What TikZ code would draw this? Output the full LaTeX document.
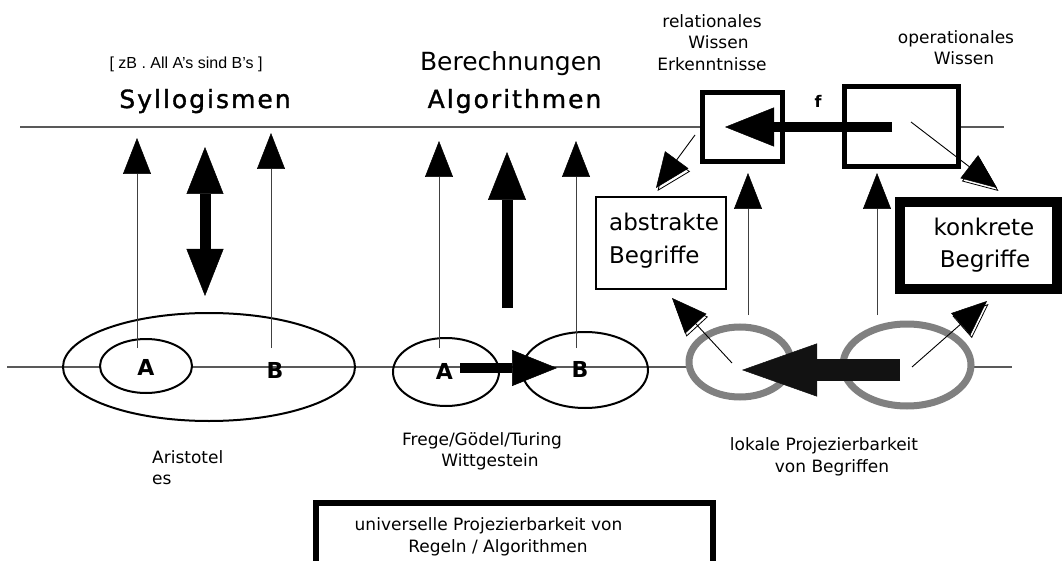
\documentclass[tikz,border=0pt]{standalone}
\usepackage{fontspec}
\setmainfont{DejaVu Sans}
\newfontfamily\libsans{Liberation Sans}
\newfontfamily\widebold[LetterSpace=8,FakeBold=1.3]{DejaVu Sans}
\usetikzlibrary{arrows.meta,shapes.geometric}
\newcommand\myfs[1]{\fontsize{#1}{#1}\selectfont}
\begin{document}
\begin{tikzpicture}[x=1pt,y=-1pt,
  hline/.style={draw=black!65,line width=1.3pt},
  txt/.style={inner sep=0pt,anchor=base,font=\myfs{17}},
  ell/.style={ellipse,draw=black,line width=2pt,inner sep=0pt},
  gell/.style={ellipse,draw=black!50,line width=7pt,inner sep=0pt,fill=white},
  thinarrow/.style={draw=black!75,line width=1pt,-{Triangle[width=28pt,length=36pt,color=black,line width=0.5pt]}},
  fatarrow/.style={draw=black,line width=11pt,-{Triangle[width=38pt,length=48pt,line width=0.5pt]}},
  diag/.style={draw=black,line width=0.9pt,-{Triangle[width=29pt,length=35pt,line width=0.5pt]}},
  diagshadow/.style={draw=black,line width=0.8pt,-{Triangle[width=29pt,length=35pt,fill=white,line width=0.8pt]}},
  boxthick/.style={draw=black,fill=white,inner sep=0pt,line width=5pt}
]
\useasboundingbox (0,0) rectangle (1062,561);
\clip (0,0) rectangle (1062,561);
\fill[white] (0,0) rectangle (1062,561);

% horizontal lines
\coordinate (top1) at (20,127);
\coordinate (top2) at (1004,127);
\coordinate (bot1) at (7,367);
\coordinate (bot2) at (1012,367);
\draw[hline] (top1) -- (top2);
\draw[hline] (bot1) -- (bot2);

% ellipses
\node[ell,minimum width=292pt,minimum height=108pt] (bigE) at (209,367) {};
\node[ell,fill=white,minimum width=92pt,minimum height=54pt] (smallA) at (146,366) {};
\node[ell,minimum width=106pt,minimum height=68pt] (midA) at (446,372) {};
\node[ell,minimum width=126pt,minimum height=76pt] (midB) at (585,370) {};
\node[gell,minimum width=102pt,minimum height=70pt] (grayL) at (740,362) {};
\node[gell,minimum width=128pt,minimum height=82pt] (grayR) at (907,365) {};

% boxes
\node[boxthick,minimum width=80pt,minimum height=69pt] (rel) at (742.5,127) {};
\node[boxthick,minimum width=114pt,minimum height=80pt] (op) at (901.5,126.5) {};
\node[draw=black,fill=white,inner sep=0pt,line width=1.2pt,minimum width=130pt,minimum height=92pt] (absbox) at (661,243) {};
\node[draw=black,fill=white,inner sep=0pt,line width=10pt,minimum width=157pt,minimum height=87pt] (konbox) at (978.5,245.5) {};
\node[draw=black,fill=white,inner sep=0pt,line width=6pt,minimum width=397pt,minimum height=100pt,anchor=north] (univbox) at (514.5,500) {};

% texts
\node[txt,font=\libsans\myfs{16}] (zb) at (186,69) {[ zB . All A’s sind B’s ]};
\node[txt,font=\widebold\myfs{25}] (syl) at (205,108) {Syllogismen};
\node[txt,font=\myfs{25}] (ber) at (511,71) {Berechnungen};
\node[txt,font=\widebold\myfs{25}] (alg) at (514.5,108) {Algorithmen};
\node[txt] (rel1) at (712,28) {relationales};
\node[txt] (rel2) at (718.5,49) {Wissen};
\node[txt] (rel3) at (712,71) {Erkenntnisse};
\node[txt] (op1) at (956,44) {operationales};
\node[txt] (op2) at (964,65) {Wissen};
\node[txt,font=\bfseries\myfs{16}] (f) at (818,108) {f};
\node[txt,anchor=base west,font=\myfs{23}] (abs1) at (609,231) {abstrakte};
\node[txt,anchor=base west,font=\myfs{23}] (abs2) at (609,263) {Begriffe};
\node[txt,font=\myfs{23}] (kon1) at (984,236) {konkrete};
\node[txt,font=\myfs{23}] (kon2) at (985,268) {Begriffe};
\node[txt,font=\bfseries\myfs{22}] (la) at (146,375) {A};
\node[txt,font=\bfseries\myfs{22}] (lb) at (275,378) {B};
\node[txt,font=\bfseries\myfs{22}] (ma) at (444.5,379) {A};
\node[txt,font=\bfseries\myfs{22}] (mb) at (580,377) {B};
\node[txt,anchor=base west] (ar1) at (152,463) {Aristotel};
\node[txt,anchor=base west] (ar2) at (152,484) {es};
\node[txt] (fr1) at (482,445) {Frege/Gödel/Turing};
\node[txt] (fr2) at (490,466) {Wittgestein};
\node[txt] (lo1) at (824,450) {lokale Projezierbarkeit};
\node[txt] (lo2) at (832,472) {von Begriffen};
\node[txt] (un1) at (488.5,530) {universelle Projezierbarkeit von};
\node[txt] (un2) at (498,552) {Regeln / Algorithmen};

% arrow end points
\coordinate (l1s) at (137,348); \coordinate (l1t) at (137,138);
\coordinate (l2s) at (271,348); \coordinate (l2t) at (271,133);
\coordinate (dbl1) at (205,147); \coordinate (dbl2) at (205,296);
\coordinate (m1s) at (439,348); \coordinate (m1t) at (439,141);
\coordinate (m2s) at (576,348); \coordinate (m2t) at (576,141);
\coordinate (upS) at (507,308); \coordinate (upT) at (507,152);
\coordinate (abS) at (460,368); \coordinate (abT) at (557,368);
\coordinate (r1s) at (748,315); \coordinate (r1t) at (748,173);
\coordinate (r2s) at (877,315); \coordinate (r2t) at (877,173);
\coordinate (fS) at (892,127); \coordinate (fT) at (725,127);
\coordinate (gS) at (900,370); \coordinate (gT) at (742,370);
\coordinate (d1s) at (695,135); \coordinate (d1t) at (656,188); \coordinate (d1b) at (676.8,159.8);
\coordinate (d2s) at (911,122); \coordinate (d2t) at (997,188); \coordinate (d2b) at (969.2,166.7);
\coordinate (d3s) at (732,363); \coordinate (d3t) at (672,298); \coordinate (d3b) at (695.7,323.7);
\coordinate (d4s) at (912,367); \coordinate (d4t) at (987,301); \coordinate (d4b) at (960.7,324.1);

% thin arrows
\draw[thinarrow] (l1s) -- (l1t);
\draw[thinarrow] (l2s) -- (l2t);
\draw[thinarrow] (m1s) -- (m1t);
\draw[thinarrow] (m2s) -- (m2t);
\draw[thinarrow] (r1s) -- (r1t);
\draw[thinarrow] (r2s) -- (r2t);

% fat arrows
\draw[draw=black,line width=11pt,{Triangle[width=37pt,length=47pt,line width=0.5pt]}-{Triangle[width=37pt,length=47pt,line width=0.5pt]}] (dbl1) -- (dbl2);
\draw[fatarrow] (upS) -- (upT);
\draw[draw=black,line width=10pt,-{Triangle[width=36pt,length=45pt,line width=0.5pt]}] (abS) -- (abT);
\draw[draw=black,line width=10pt,-{Triangle[width=39pt,length=49pt,line width=0.5pt]}] (fS) -- (fT);
\draw[draw=black!93,line width=22pt,-{Triangle[width=53pt,length=75pt,line width=0.5pt]}] (gS) -- (gT);

% diagonal arrows with shadowed heads
\foreach \k in {1,2,3,4}{
  \draw[diagshadow] ([xshift=1.5pt,yshift=-3pt]d\k b) -- ([xshift=1.5pt,yshift=-3pt]d\k t);
  \draw[diag] (d\k s) -- (d\k t);
}
\end{tikzpicture}
\end{document}
